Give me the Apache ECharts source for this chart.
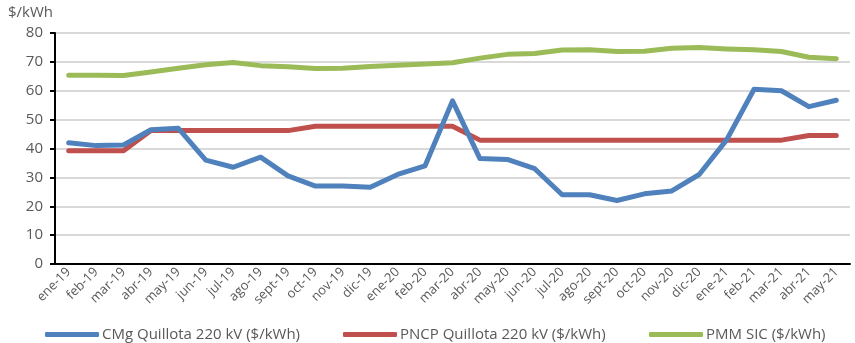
<!DOCTYPE html>
<html>
<head>
<meta charset="utf-8">
<script src="https://cdn.jsdelivr.net/npm/echarts@6/dist/echarts.min.js"></script>
<style>
  html, body { margin: 0; padding: 0; background: #fff; }
  #chart { width: 855px; height: 343px; }
</style>
</head>
<body>
<div id="chart"></div>
<script>
// Monthly price series, Jan 2019 – May 2021
const months = ['ene-19','feb-19','mar-19','abr-19','may-19','jun-19','jul-19','ago-19','sept-19','oct-19','nov-19','dic-19',
  'ene-20','feb-20','mar-20','abr-20','may-20','jun-20','jul-20','ago-20','sept-20','oct-20','nov-20','dic-20',
  'ene-21','feb-21','mar-21','abr-21','may-21'];

const cmgQuillota = [42, 41, 41.2, 46.5, 47, 36, 33.5, 37, 30.5, 27, 27, 26.6,
  31, 34, 56.5, 36.5, 36.2, 33, 24, 24, 22, 24.3, 25.3, 31,
  43, 60.5, 60, 54.5, 56.7];

const pncpQuillota = [39.2, 39.2, 39.2, 46.2, 46.2, 46.2, 46.2, 46.2, 46.2, 47.7, 47.7, 47.7,
  47.7, 47.7, 47.7, 42.9, 42.9, 42.9, 42.9, 42.9, 42.9, 42.9, 42.9, 42.9,
  42.9, 42.9, 42.9, 44.5, 44.5];

const pmmSic = [65.4, 65.4, 65.3, 66.5, 67.8, 69, 69.8, 68.7, 68.3, 67.7, 67.8, 68.4,
  68.8, 69.3, 69.7, 71.3, 72.6, 72.9, 74.1, 74.2, 73.6, 73.7, 74.7, 75,
  74.5, 74.2, 73.6, 71.6, 71.1];

const seriesNames = ['CMg Quillota 220 kV ($/kWh)', 'PNCP Quillota 220 kV ($/kWh)', 'PMM SIC ($/kWh)'];
const seriesColors = ['#4f81bd', '#c0504d', '#9bbb59'];

const font = '"Open Sans", "Noto Sans", sans-serif';
const textGray = '#595959';

const chart = echarts.init(document.getElementById('chart'));

function legendAt(i, left) {
  return {
    data: [seriesNames[i]],
    left: left,
    top: 322,
    icon: 'roundRect',
    itemWidth: 54,
    itemHeight: 5,
    itemGap: 0,
    textStyle: { color: textGray, fontSize: 15, fontFamily: font, padding: [0, 0, 0, -2] }
  };
}

chart.setOption({
  animation: false,
  backgroundColor: '#ffffff',
  grid: { left: 55, right: 5, top: 33, bottom: 79 },
  title: {
    text: '$/kWh',
    left: 3,
    top: 0,
    textStyle: { color: textGray, fontSize: 15, fontWeight: 'normal', fontFamily: font }
  },
  legend: [legendAt(0, 40), legendAt(1, 338), legendAt(2, 644)],
  xAxis: {
    type: 'category',
    data: months,
    boundaryGap: true,
    axisLine: { lineStyle: { color: '#000', width: 2 } },
    axisTick: { show: false },
    axisLabel: {
      rotate: 45,
      interval: 0,
      color: textGray,
      fontSize: 13,
      fontFamily: font,
      margin: 6
    }
  },
  yAxis: {
    type: 'value',
    min: 0,
    max: 80,
    interval: 10,
    axisLine: { show: true, lineStyle: { color: '#000', width: 2 } },
    axisTick: { show: true, length: 5, lineStyle: { color: '#000', width: 2 } },
    axisLabel: { color: textGray, fontSize: 15, fontFamily: font, margin: 12 },
    splitLine: { lineStyle: { color: '#d9d9d9', width: 2 } }
  },
  series: [cmgQuillota, pncpQuillota, pmmSic].map((vals, i) => ({
    name: seriesNames[i],
    type: 'line',
    data: vals,
    showSymbol: false,
    symbol: 'none',
    color: seriesColors[i],
    lineStyle: { width: 5, color: seriesColors[i], cap: 'round', join: 'round' },
    z: 3 - i
  }))
});
</script>
</body>
</html>
